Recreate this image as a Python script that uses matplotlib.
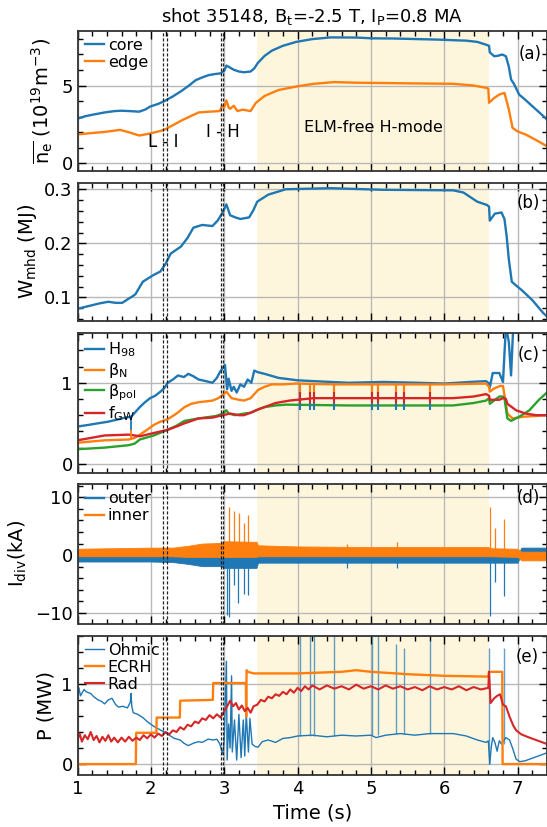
import numpy as np
import matplotlib.pyplot as plt
from matplotlib.ticker import MultipleLocator

# ---- data ----
# (a) line-averaged density, 1e19 m^-3
core_t = [1.0, 1.1, 1.2, 1.37, 1.51, 1.6, 1.7, 1.84, 1.92, 1.99, 2.1, 2.18, 2.3, 2.42, 2.52, 2.61,
          2.7, 2.79, 2.88, 2.95, 3.0, 3.03, 3.08, 3.13, 3.2, 3.27, 3.36, 3.41, 3.46, 3.55, 3.65, 3.8,
          3.98, 4.2, 4.45, 4.8, 5.02, 5.3, 5.64, 5.9, 6.12, 6.3, 6.45, 6.57, 6.61, 6.62, 6.68, 6.73,
          6.79, 6.84, 6.88, 6.91, 6.95, 7.02, 7.1, 7.2, 7.3, 7.4]
core_v = [2.87, 3.02, 3.12, 3.27, 3.36, 3.38, 3.36, 3.32, 3.45, 3.65, 3.82, 3.99, 4.3, 4.66, 5.0, 5.34,
          5.52, 5.67, 5.74, 5.78, 5.95, 6.28, 6.15, 6.01, 5.9, 5.85, 5.9, 6.1, 6.46, 6.9, 7.24, 7.55,
          7.8, 7.98, 8.09, 8.08, 8.03, 8.02, 7.98, 7.95, 7.91, 7.88, 7.8, 7.62, 7.55, 7.13, 6.88, 6.91,
          6.99, 6.88, 6.2, 5.39, 5.1, 4.42, 4.1, 3.67, 3.25, 2.82]
edge_t = [1.0, 1.2, 1.37, 1.5, 1.58, 1.7, 1.84, 1.95, 2.08, 2.18, 2.3, 2.42, 2.55, 2.65, 2.8, 2.94,
          2.97, 3.0, 3.03, 3.06, 3.08, 3.13, 3.18, 3.25, 3.36, 3.43, 3.55, 3.74, 4.0, 4.22, 4.5, 4.8,
          5.17, 5.5, 6.12, 6.4, 6.57, 6.6, 6.61, 6.68, 6.75, 6.82, 6.88, 6.93, 7.0, 7.11, 7.25, 7.4]
edge_v = [1.86, 1.95, 2.02, 2.1, 2.15, 2.0, 1.79, 1.88, 2.02, 2.15, 2.45, 2.76, 3.05, 3.27, 3.32, 3.36,
          3.7, 3.6, 4.04, 3.6, 3.5, 3.7, 3.36, 3.45, 3.36, 3.88, 4.33, 4.71, 4.95, 5.11, 5.22, 5.18,
          5.16, 5.14, 5.11, 5.0, 4.85, 4.8, 3.89, 4.2, 4.42, 4.53, 3.46, 2.28, 2.05, 1.85, 1.5, 1.1]

# (b) stored energy, MJ
wmhd_t = [1.0, 1.18, 1.3, 1.42, 1.52, 1.61, 1.7, 1.75, 1.79, 1.89, 2.03, 2.13, 2.2, 2.27, 2.41, 2.5,
          2.58, 2.7, 2.84, 2.91, 2.97, 3.03, 3.08, 3.15, 3.22, 3.34, 3.4, 3.45, 3.6, 3.84, 4.45, 5.17,
          6.12, 6.26, 6.45, 6.58, 6.61, 6.62, 6.69, 6.78, 6.82, 6.85, 6.88, 6.92, 6.98, 7.06, 7.2, 7.35, 7.4]
wmhd_v = [0.079, 0.085, 0.089, 0.092, 0.09, 0.09, 0.098, 0.102, 0.106, 0.129, 0.141, 0.148, 0.162,
          0.181, 0.194, 0.21, 0.229, 0.234, 0.232, 0.242, 0.255, 0.272, 0.252, 0.248, 0.245, 0.248,
          0.262, 0.277, 0.29, 0.3, 0.302, 0.299, 0.298, 0.294, 0.277, 0.271, 0.268, 0.242, 0.255,
          0.257, 0.245, 0.213, 0.17, 0.129, 0.122, 0.113, 0.095, 0.071, 0.065]

# (c) confinement / beta / Greenwald fraction
h98_t = [1.0, 1.15, 1.28, 1.42, 1.56, 1.65, 1.73, 1.8, 1.85, 1.92, 1.99, 2.06, 2.13, 2.18, 2.23, 2.3,
         2.37, 2.45, 2.51, 2.58, 2.65, 2.75, 2.84, 2.9, 2.94, 3.01, 3.04, 3.06, 3.1, 3.13, 3.17, 3.22,
         3.27, 3.32, 3.37, 3.41, 3.46, 3.55, 3.74, 4.0, 4.22, 4.69, 5.17, 5.64, 6.0, 6.35, 6.57, 6.61,
         6.62, 6.66, 6.75, 6.8, 6.84, 6.88, 6.91, 6.94, 7.0, 7.4]
h98_v = [0.46, 0.48, 0.5, 0.52, 0.55, 0.57, 0.58, 0.65, 0.70, 0.76, 0.81, 0.84, 0.89, 0.93, 1.0, 1.04,
         1.09, 1.07, 1.11, 1.08, 1.04, 1.02, 1.0, 1.06, 1.13, 1.22, 0.92, 1.05, 0.9, 0.95, 0.88, 0.98,
         0.95, 1.04, 1.0, 1.15, 1.13, 1.11, 1.06, 1.03, 1.02, 1.0, 1.01, 1.0, 0.99, 1.01, 1.02, 0.99,
         0.94, 1.12, 1.12, 1.01, 1.7, 1.5, 1.09, 1.7, 2.0, 2.0]
betan_t = [1.0, 1.37, 1.70, 1.78, 1.85, 1.95, 2.04, 2.13, 2.23, 2.35, 2.46, 2.55, 2.65, 2.75, 2.84,
           2.92, 2.98, 3.03, 3.1, 3.2, 3.27, 3.36, 3.46, 3.55, 3.65, 3.8, 3.98, 4.5, 5.0, 6.0, 6.57,
           6.61, 6.62, 6.68, 6.76, 6.8, 6.82, 6.86, 6.93, 7.07, 7.4]
betan_v = [0.26, 0.29, 0.30, 0.32, 0.36, 0.42, 0.48, 0.52, 0.55, 0.62, 0.70, 0.74, 0.76, 0.77, 0.78,
           0.81, 0.85, 0.89, 0.81, 0.79, 0.78, 0.81, 0.91, 0.95, 0.98, 0.98, 0.99, 0.98, 0.98, 0.98,
           0.99, 0.95, 0.89, 0.93, 0.96, 0.96, 0.85, 0.62, 0.56, 0.58, 0.6]
betap_t = [1.0, 1.37, 1.7, 1.78, 1.85, 2.04, 2.23, 2.35, 2.46, 2.65, 2.89, 2.98, 3.03, 3.06, 3.15,
           3.27, 3.36, 3.46, 3.55, 3.7, 3.84, 4.69, 6.12, 6.4, 6.57, 6.61, 6.62, 6.75, 6.8, 6.82, 6.86,
           6.91, 7.02, 7.16, 7.29, 7.4]
betap_v = [0.18, 0.2, 0.23, 0.25, 0.30, 0.35, 0.42, 0.47, 0.53, 0.56, 0.59, 0.62, 0.66, 0.62, 0.6,
           0.62, 0.63, 0.67, 0.70, 0.72, 0.73, 0.72, 0.72, 0.75, 0.78, 0.81, 0.74, 0.83, 0.83, 0.81,
           0.56, 0.53, 0.58, 0.66, 0.79, 0.88]
fgw_t = [1.0, 1.37, 1.70, 1.85, 2.04, 2.23, 2.35, 2.46, 2.65, 2.84, 2.98, 3.08, 3.2, 3.27, 3.36, 3.46,
         3.55, 3.7, 3.89, 4.22, 5.17, 6.12, 6.4, 6.57, 6.61, 6.62, 6.66, 6.75, 6.8, 6.84, 6.86, 6.98,
         7.11, 7.25, 7.4]
fgw_v = [0.29, 0.35, 0.36, 0.34, 0.38, 0.42, 0.46, 0.50, 0.56, 0.57, 0.60, 0.62, 0.60, 0.60, 0.63,
         0.67, 0.70, 0.75, 0.78, 0.81, 0.81, 0.81, 0.83, 0.86, 0.84, 0.79, 0.79, 0.79, 0.81, 0.8, 0.74,
         0.66, 0.62, 0.60, 0.60]
glitch_t = [4.03, 4.17, 4.23, 4.5, 5.01, 5.1, 5.34, 5.45, 5.8]

# (d) divertor currents, kA (band envelopes + spikes)
div_t = [1.0, 1.5, 2.0, 2.3, 2.5, 2.7, 2.95, 3.0, 3.44, 3.46, 4.0, 5.0, 6.0, 6.6, 6.62, 7.0, 7.05, 7.4]
inner_hi = [1.1, 1.2, 1.3, 1.3, 1.6, 2.0, 2.1, 2.4, 2.3, 1.7, 1.5, 1.4, 1.4, 1.4, 1.2, 1.1, 0.6, 0.6]
inner_lo = [-0.2, -0.2, -0.2, -0.2, -0.3, -0.3, -0.3, -0.3, -0.3, -0.2, -0.2, -0.2, -0.2, -0.2, -0.2,
            -0.3, -0.9, -0.9]
outer_hi = [0.0, 0.0, 0.0, 0.0, 0.0, 0.0, 0.0, 0.0, 0.0, 0.0, 0.0, 0.0, 0.0, 0.0, 0.0, 0.0, 1.3, 1.3]
outer_lo = [-1.1, -1.1, -1.1, -1.2, -1.5, -1.9, -1.9, -2.2, -2.2, -1.3, -1.3, -1.3, -1.3, -1.3, -1.3,
            -1.3, 0.3, 0.3]
inner_spk_t = [3.06, 3.13, 3.2, 3.27, 3.33, 4.68, 5.36, 6.62, 6.69, 6.82]
inner_spk_v = [8.3, 7.7, 7.3, 5.6, 6.9, 1.9, 2.3, 8.3, 4.7, 6.2]
outer_spk_t = [3.04, 3.06, 3.13, 3.19, 3.27, 3.33, 4.68, 5.36, 6.62, 6.69, 6.82]
outer_spk_v = [-10.4, -10.7, -5.2, -8.3, -6.7, -6.9, -2.2, -2.2, -10.5, -4.6, -7.0]

# (e) powers, MW
ohm_t = [1.0, 1.02, 1.04, 1.09, 1.12, 1.18, 1.22, 1.28, 1.33, 1.37, 1.42, 1.47, 1.52, 1.56, 1.62, 1.68,
         1.72, 1.73, 1.74, 1.76, 1.82, 1.89, 1.95, 2.04, 2.1, 2.18, 2.25, 2.32, 2.4, 2.45, 2.51, 2.58,
         2.65, 2.7, 2.78, 2.85, 2.9, 2.94, 2.98, 3.0, 3.03, 3.04, 3.06, 3.08, 3.1, 3.11, 3.14, 3.17,
         3.2, 3.23, 3.26, 3.28, 3.3, 3.33, 3.35, 3.38, 3.42, 3.46, 3.52, 3.6, 3.7, 3.8, 3.9, 4.0, 4.2,
         4.4, 4.6, 4.8, 5.0, 5.07, 5.2, 5.4, 5.6, 5.8, 6.0, 6.12, 6.3, 6.45, 6.57, 6.6, 6.62, 6.64, 6.66,
         6.69, 6.72, 6.75, 6.78, 6.8, 6.84, 6.89, 6.93, 6.98, 7.03, 7.1, 7.16, 7.25, 7.4]
ohm_v = [0.86, 0.95, 0.85, 0.93, 0.90, 0.88, 0.84, 0.80, 0.78, 0.75, 0.80, 0.82, 0.74, 0.71, 0.72, 0.70,
         0.77, 0.88, 0.72, 0.64, 0.62, 0.58, 0.53, 0.47, 0.44, 0.40, 0.36, 0.32, 0.30, 0.26, 0.23, 0.26,
         0.28, 0.27, 0.31, 0.30, 0.31, 0.25, 0.12, 0.30, 1.28, 0.05, 0.50, 0.20, 1.10, 0.15, 0.55, 0.05,
         0.62, 0.08, 0.55, 0.10, 0.64, 0.15, 0.57, 0.25, 0.22, 0.21, 0.28, 0.30, 0.27, 0.32, 0.33, 0.35,
         0.36, 0.34, 0.36, 0.35, 0.36, 0.33, 0.36, 0.38, 0.36, 0.38, 0.38, 0.38, 0.35, 0.3, 0.27, 0.29,
         0.0, 0.21, 0.33, 0.27, 0.16, 0.29, 0.25, 0.28, 0.33, 0.3, 0.2, 0.06, 0.03, 0.04, 0.06, 0.09, 0.14]
ohm_spk_t = [4.03, 4.17, 4.23, 4.5, 5.01, 5.1, 5.34, 5.45, 5.8, 6.61, 6.82]
ohm_spk_lo = [0.35, 0.35, 0.35, 0.35, 0.36, 0.36, 0.37, 0.38, 0.38, 0.0, 0.25]
ohm_spk_hi = [1.62, 1.62, 1.62, 1.62, 1.62, 1.62, 1.5, 1.45, 1.55, 1.45, 1.45]
ecrh_t = [1.0, 1.795, 1.80, 2.075, 2.08, 2.395, 2.40, 2.845, 2.85, 3.295, 3.30, 3.305, 3.32, 3.4, 4.0,
          4.6, 4.8, 5.0, 5.5, 6.0, 6.6, 6.61, 6.79, 6.795, 7.4]
ecrh_v = [0.0, 0.0, 0.39, 0.39, 0.58, 0.58, 0.79, 0.80, 1.01, 1.01, 0.59, 1.17, 1.15, 1.13, 1.13,
          1.15, 1.17, 1.15, 1.12, 1.10, 1.09, 1.15, 1.15, 0.0, 0.0]
rad_t = [1.0, 1.03, 1.06, 1.1, 1.14, 1.18, 1.22, 1.26, 1.3, 1.34, 1.38, 1.42, 1.46, 1.5, 1.55, 1.6,
         1.65, 1.7, 1.75, 1.8, 1.85, 1.9, 1.95, 2.0, 2.05, 2.1, 2.15, 2.2, 2.25, 2.3, 2.35, 2.4, 2.45,
         2.5, 2.55, 2.6, 2.65, 2.7, 2.75, 2.8, 2.85, 2.9, 2.95, 3.0, 3.04, 3.08, 3.12, 3.16, 3.2, 3.24,
         3.28, 3.32, 3.36, 3.4, 3.45, 3.5, 3.55, 3.6, 3.65, 3.7, 3.75, 3.8, 3.85, 3.9, 3.95, 4.0, 4.05,
         4.1, 4.15, 4.2, 4.3, 4.4, 4.5, 4.6, 4.7, 4.8, 4.9, 5.0, 5.1, 5.2, 5.3, 5.4, 5.5, 5.6, 5.7, 5.8,
         5.9, 6.0, 6.1, 6.2, 6.3, 6.4, 6.5, 6.6, 6.61, 6.63, 6.68, 6.72, 6.76, 6.8, 6.84, 6.89, 6.94,
         6.98, 7.05, 7.16, 7.28, 7.4]
rad_v = [0.30, 0.38, 0.28, 0.36, 0.31, 0.40, 0.30, 0.35, 0.27, 0.34, 0.29, 0.36, 0.28, 0.33, 0.27,
         0.33, 0.28, 0.34, 0.29, 0.33, 0.30, 0.36, 0.32, 0.37, 0.33, 0.38, 0.35, 0.40, 0.37, 0.42, 0.40,
         0.46, 0.43, 0.49, 0.47, 0.53, 0.51, 0.57, 0.55, 0.61, 0.57, 0.62, 0.58, 0.66, 0.72, 0.79, 0.72,
         0.76, 0.68, 0.73, 0.66, 0.70, 0.64, 0.72, 0.74, 0.80, 0.78, 0.84, 0.82, 0.87, 0.85, 0.90, 0.87,
         0.93, 0.89, 0.95, 0.91, 0.97, 0.93, 0.98, 0.93, 0.98, 0.94, 0.97, 0.93, 0.99, 0.94, 0.97, 0.93,
         0.98, 0.94, 0.97, 0.93, 0.96, 0.92, 0.97, 0.93, 0.96, 0.93, 0.97, 0.92, 0.96, 0.93, 0.95, 1.15,
         0.76, 0.82, 0.85, 0.87, 0.74, 0.72, 0.59, 0.48, 0.42, 0.37, 0.33, 0.29, 0.25]

# phases
hmode_span = (3.45, 6.61)
trans_t = [2.16, 2.22, 2.95, 2.98]

# ---- figure ----
W, H = 547, 827
fig = plt.figure(figsize=(W / 100, H / 100), dpi=100)
left = 77.5 / W
tops = [30.7, 183.3, 333.3, 484.0, 635.7]
hts = [140.3, 137.4, 139.2, 139.5, 139.2]
axs = [fig.add_axes([left, 1 - (tp + h) / H, 1 - left, h / H]) for tp, h in zip(tops, hts)]

shade = '#fef6dc'
for ax in axs:
    ax.axvspan(*hmode_span, color=shade, lw=0, zorder=0)
    for tt in trans_t:
        ax.axvline(tt, color='#222222', ls='--', lw=0.9, dashes=(2.5, 1.5), zorder=3)
    ax.set_xlim(1, 7.4)
    ax.xaxis.set_major_locator(MultipleLocator(1))
    ax.xaxis.set_minor_locator(MultipleLocator(0.2))
    ax.grid(True, which='major', color='#b8b8b8', lw=1.0)
    ax.tick_params(which='both', direction='in', top=True, right=True, labelsize=13)
    ax.tick_params(which='major', length=6, width=1)
    ax.tick_params(which='minor', length=3.5, width=1)
    for s in ax.spines.values():
        s.set_linewidth(1.3)
        s.set_color('#333333')
    if ax is not axs[-1]:
        ax.tick_params(labelbottom=False)

leg_kw = dict(loc='upper left', frameon=False, fontsize=11.5, handlelength=1.2,
              handletextpad=0.25, labelspacing=0.12, borderaxespad=0.25, borderpad=0.2)

# (a)
ax = axs[0]
ax.plot(core_t, core_v, color='C0', lw=1.7, label='core')
ax.plot(edge_t, edge_v, color='C1', lw=1.7, label='edge')
ax.set_ylim(-0.49, 8.52)
ax.set_yticks([0, 5])
ax.yaxis.set_minor_locator(MultipleLocator(1))
ax.set_ylabel(r'$\overline{\mathrm{n}_\mathrm{e}}$ (10$^{19}$m$^{-3}$)', fontsize=14)
ax.legend(**leg_kw)
ax.text(2.165, 1.39, 'L - I', fontsize=12, ha='center', va='center')
ax.text(2.98, 2.03, 'I - H', fontsize=12, ha='center', va='center')
ax.text(5.03, 2.31, 'ELM-free H-mode', fontsize=11.5, ha='center', va='center')
ax.set_title(r'shot 35148, B$_\mathrm{t}$=-2.5 T, I$_\mathrm{P}$=0.8 MA', fontsize=13, pad=6)
ax.text(0.963, 0.834, '(a)', transform=ax.transAxes, fontsize=12, ha='center', va='center')

# (b)
ax = axs[1]
ax.plot(wmhd_t, wmhd_v, color='C0', lw=1.7)
ax.set_ylim(0.057, 0.311)
ax.set_yticks([0.1, 0.2, 0.3])
ax.yaxis.set_minor_locator(MultipleLocator(0.02))
ax.set_ylabel(r'W$_\mathrm{mhd}$ (MJ)', fontsize=14)
ax.text(0.961, 0.856, '(b)', transform=ax.transAxes, fontsize=12, ha='center', va='center')

# (c)
ax = axs[2]
ax.plot(h98_t, h98_v, color='C0', lw=1.7, label=r'H$_{98}$')
ax.plot(betan_t, betan_v, color='C1', lw=1.7, label=r'β$_\mathrm{N}$')
ax.plot(betap_t, betap_v, color='C2', lw=1.7, label=r'β$_\mathrm{pol}$')
ax.plot(fgw_t, fgw_v, color='C3', lw=1.7, label=r'f$_\mathrm{GW}$')
ax.vlines(glitch_t, 0.66, 0.98, color='C0', lw=1.5, zorder=2.2)
ax.vlines(glitch_t, 0.86, 0.98, color='C1', lw=1.5, zorder=2.3)
ax.vlines(glitch_t, 0.75, 0.88, color='C3', lw=1.5, zorder=2.4)
ax.vlines([1.73], 0.42, 0.59, color='C0', lw=1.3)
ax.vlines([1.73], 0.30, 0.42, color='C1', lw=1.3)
ax.set_ylim(-0.107, 1.61)
ax.set_yticks([0, 1])
ax.yaxis.set_minor_locator(MultipleLocator(0.2))
ax.legend(**leg_kw)
ax.text(0.961, 0.845, '(c)', transform=ax.transAxes, fontsize=12, ha='center', va='center')

# (d)
ax = axs[3]
ax.fill_between(div_t, outer_lo, outer_hi, color='C0', lw=0.6, zorder=2)
ax.fill_between(div_t, inner_lo, inner_hi, color='C1', lw=0.6, zorder=2.1)
ax.vlines(inner_spk_t, 1.0, inner_spk_v, color='C1', lw=0.9, zorder=2.1)
ax.vlines(outer_spk_t, -1.0, outer_spk_v, color='C0', lw=0.9, zorder=2)
ax.set_ylim(-11.8, 12.28)
ax.set_yticks([-10, 0, 10])
ax.yaxis.set_minor_locator(MultipleLocator(2))
ax.set_ylabel(r'I$_\mathrm{div}$(kA)', fontsize=14)
h1, = ax.plot([], [], color='C0', lw=1.7)
h2, = ax.plot([], [], color='C1', lw=1.7)
ax.legend([h1, h2], ['outer', 'inner'], **leg_kw)
ax.text(0.961, 0.90, '(d)', transform=ax.transAxes, fontsize=12, ha='center', va='center')

# (e)
ax = axs[4]
ax.plot(ohm_t, ohm_v, color='C0', lw=1.0, label='Ohmic')
ax.vlines(ohm_spk_t, ohm_spk_lo, ohm_spk_hi, color='C0', lw=1.0, alpha=0.7)
ax.plot(ecrh_t, ecrh_v, color='C1', lw=1.7, label='ECRH')
ax.plot(rad_t, rad_v, color='C3', lw=1.5, label='Rad')
ax.set_ylim(-0.135, 1.60)
ax.set_yticks([0, 1])
ax.yaxis.set_minor_locator(MultipleLocator(0.2))
ax.set_ylabel('P (MW)', fontsize=14)
ax.set_xlabel('Time (s)', fontsize=14)
ax.legend(**leg_kw)
ax.text(0.958, 0.85, '(e)', transform=ax.transAxes, fontsize=12, ha='center', va='center')

fig.savefig('out.png', dpi=100)
